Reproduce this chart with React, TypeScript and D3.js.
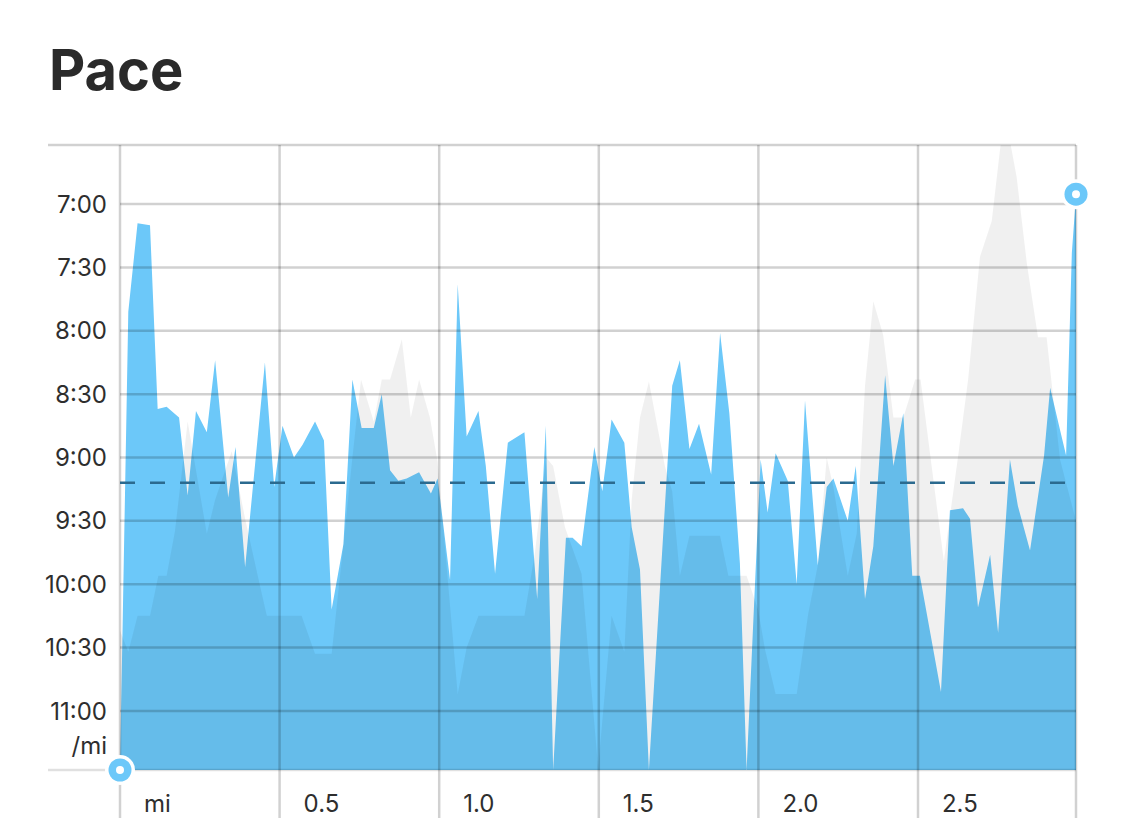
import React from "react";
import * as d3 from "d3";

// Main run: distance (mi) and pace (seconds per mile)
const runMiles = [0.000, 0.026, 0.055, 0.094, 0.118, 0.146, 0.185, 0.212, 0.238, 0.272, 0.298, 0.339, 0.362, 0.392, 0.454, 0.483, 0.509, 0.545, 0.572, 0.611, 0.639, 0.663, 0.700, 0.728, 0.757, 0.795, 0.820, 0.846, 0.872, 0.898, 0.937, 0.974, 0.995, 1.034, 1.058, 1.086, 1.123, 1.146, 1.175, 1.215, 1.267, 1.307, 1.334, 1.357, 1.397, 1.418, 1.446, 1.486, 1.511, 1.540, 1.580, 1.603, 1.629, 1.657, 1.730, 1.754, 1.784, 1.814, 1.852, 1.880, 1.909, 1.942, 1.963, 2.007, 2.029, 2.054, 2.092, 2.120, 2.146, 2.186, 2.214, 2.235, 2.280, 2.305, 2.334, 2.360, 2.397, 2.423, 2.454, 2.482, 2.506, 2.572, 2.600, 2.641, 2.663, 2.688, 2.726, 2.751, 2.788, 2.813, 2.851, 2.895, 2.914, 2.945, 2.964, 2.982, 2.995];
const runPace = [688, 471, 429, 430, 517, 516, 521, 558, 518, 528, 494, 559, 535, 592, 495, 554, 525, 540, 534, 523, 532, 612, 581, 503, 526, 526, 510, 546, 551, 550, 547, 557, 550, 598, 458, 530, 518, 544, 595, 533, 528, 607, 525, 688, 578, 578, 582, 535, 556, 522, 533, 573, 593, 688, 506, 494, 536, 524, 548, 481, 519, 590, 688, 541, 566, 538, 551, 600, 513, 591, 554, 550, 570, 544, 607, 582, 501, 544, 519, 596, 596, 651, 565, 564, 569, 611, 586, 623, 541, 563, 584, 539, 507, 527, 539, 443, 416];

// Comparison run: distance (mi) and pace (seconds per mile)
const compMiles = [0.000, 0.026, 0.055, 0.094, 0.120, 0.146, 0.172, 0.212, 0.272, 0.298, 0.350, 0.392, 0.433, 0.460, 0.569, 0.611, 0.663, 0.700, 0.728, 0.755, 0.795, 0.820, 0.846, 0.883, 0.911, 0.937, 0.971, 0.995, 1.058, 1.086, 1.123, 1.267, 1.300, 1.335, 1.357, 1.394, 1.446, 1.498, 1.540, 1.580, 1.603, 1.629, 1.657, 1.707, 1.730, 1.754, 1.784, 1.880, 1.906, 1.963, 1.999, 2.021, 2.054, 2.120, 2.156, 2.186, 2.214, 2.235, 2.280, 2.308, 2.334, 2.360, 2.391, 2.423, 2.454, 2.491, 2.508, 2.581, 2.625, 2.657, 2.694, 2.731, 2.757, 2.766, 2.788, 2.809, 2.841, 2.876, 2.903, 2.945, 2.995];
const compPace = [622, 632, 615, 615, 596, 596, 575, 523, 576, 560, 537, 569, 597, 615, 615, 633, 633, 581, 540, 503, 523, 503, 503, 484, 521, 503, 521, 542, 652, 630, 615, 615, 585, 540, 544, 573, 595, 687, 615, 632, 560, 521, 504, 544, 556, 596, 577, 577, 596, 596, 612, 631, 652, 652, 614, 591, 540, 554, 596, 576, 506, 466, 482, 521, 521, 503, 503, 589, 540, 503, 445, 428, 394, 385, 390, 407, 448, 483, 483, 541, 570];

const averagePace = 552;

const paceTicks = [420, 450, 480, 510, 540, 570, 600, 630, 660];
const paceTickLabels = ["7:00", "7:30", "8:00", "8:30", "9:00", "9:30", "10:00", "10:30", "11:00"];
const mileTicks = [0, 0.5, 1.0, 1.5, 2.0, 2.5];
const mileTickLabels = ["mi", "0.5", "1.0", "1.5", "2.0", "2.5"];
const totalMiles = 2.995;
const paceDomain = [392, 688];

const W = 1125;
const H = 836;
const L = 120, R = 1076, T = 145, B = 770;
const BLUE = "#6cc8f9";
const FONT = "Inter, 'Noto Sans', sans-serif";

export default function App() {
  const x = d3.scaleLinear().domain([0, totalMiles]).range([L, R]);
  const y = d3.scaleLinear().domain(paceDomain).range([T, B]);

  const runData = runMiles.map((m, i) => [m, runPace[i]] as [number, number]);
  const compData = compMiles.map((m, i) => [m, compPace[i]] as [number, number]);

  const area = d3
    .area<[number, number]>()
    .x((d) => x(d[0]))
    .y0(B)
    .y1((d) => y(d[1]));

  const grid = "rgba(0,0,0,0.18)";
  const last = runData[runData.length - 1];
  const first = runData[0];

  const marker = (cx: number, cy: number, key: string) => (
    <g key={key}>
      <circle cx={cx} cy={cy} r={15} fill="#fff" />
      <circle cx={cx} cy={cy} r={11.5} fill={BLUE} />
      <circle cx={cx} cy={cy} r={4} fill="#fff" />
    </g>
  );

  return (
    <svg
      width={W}
      height={H}
      style={{ position: "absolute", left: 0, top: 0, background: "#fff" }}
      fontFamily={FONT}
    >
      <defs>
        <clipPath id="plot">
          <rect x={L} y={T} width={R - L} height={B - T} />
        </clipPath>
      </defs>
      <text x={49} y={90} fontSize={56} fontWeight={700} fill="#2a2a2a">
        Pace
      </text>

      <g clipPath="url(#plot)">
        <path d={area(runData) || ""} fill={BLUE} />
        <path d={area(compData) || ""} fill="rgba(0,0,0,0.06)" />
      </g>

      {/* horizontal border lines */}
      <line x1={48} x2={R} y1={T} y2={T} stroke={grid} strokeWidth={2.5} />
      <line x1={48} x2={R} y1={B} y2={B} stroke="rgba(0,0,0,0.12)" strokeWidth={2.5} />

      {/* horizontal gridlines and labels */}
      {paceTicks.map((p, i) => (
        <g key={"p" + i}>
          <line x1={L} x2={R} y1={y(p)} y2={y(p)} stroke={grid} strokeWidth={2.5} />
          <text
            x={107}
            y={y(p)}
            dy="0.36em"
            textAnchor="end"
            fontSize={24}
            fill="#2e2e2e"
          >
            {paceTickLabels[i]}
          </text>
        </g>
      ))}
      <text x={107} y={754} textAnchor="end" fontSize={24} fill="#2e2e2e">
        /mi
      </text>

      {/* vertical gridlines and labels */}
      {mileTicks.map((m, i) => (
        <g key={"m" + i}>
          <line x1={x(m)} x2={x(m)} y1={T} y2={818} stroke={grid} strokeWidth={2.5} />
          <text x={x(m) + 24} y={812} fontSize={24} fill="#2e2e2e">
            {mileTickLabels[i]}
          </text>
        </g>
      ))}
      <line x1={R} x2={R} y1={T} y2={818} stroke={grid} strokeWidth={2.5} />

      {/* average pace */}
      <line
        x1={L}
        x2={R}
        y1={y(averagePace)}
        y2={y(averagePace)}
        stroke="#2b6a8f"
        strokeWidth={2.5}
        strokeDasharray="15 15"
      />

      {marker(x(first[0]), B, "start")}
      {marker(x(last[0]), y(last[1]) - 1.5, "end")}
    </svg>
  );
}
